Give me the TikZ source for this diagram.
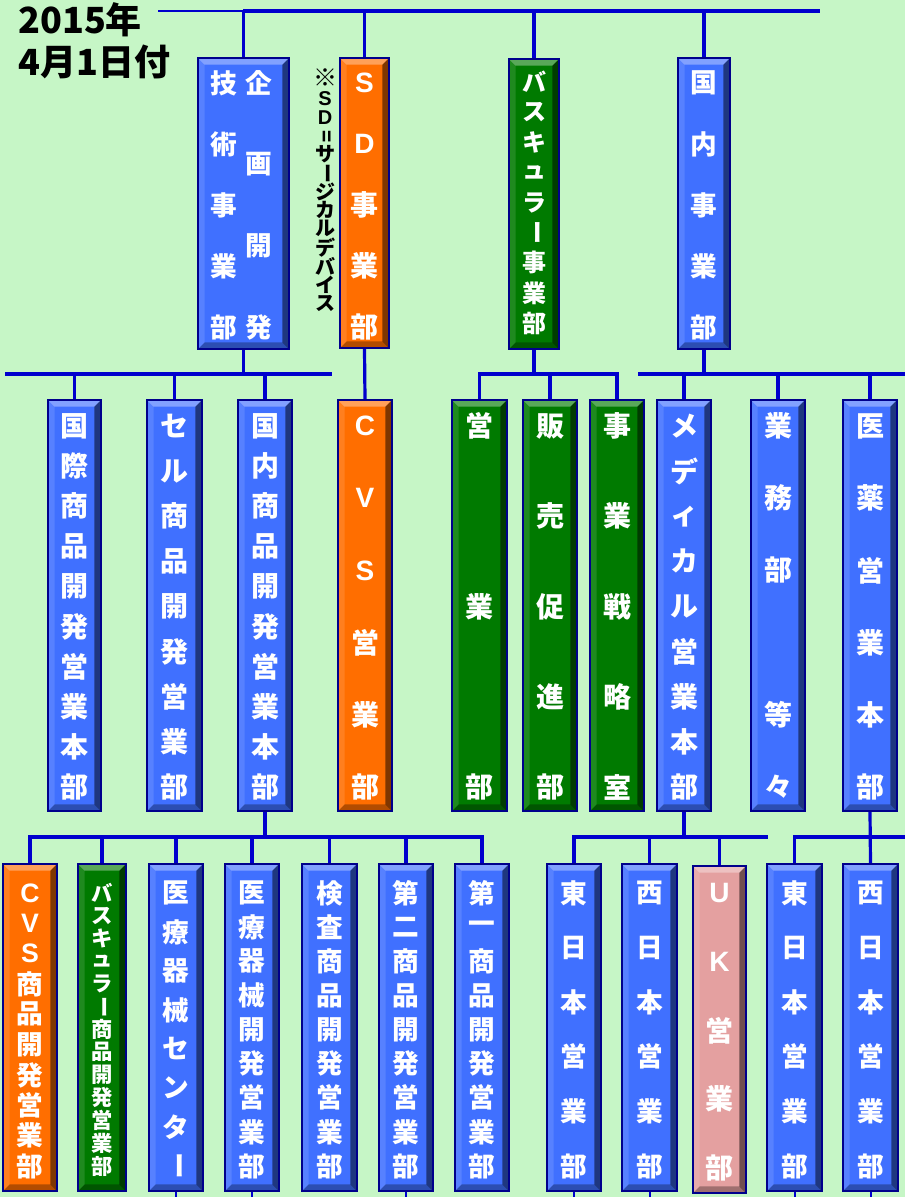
\documentclass[tikz,border=0pt]{standalone}
\usepackage{fontspec}
\setmainfont{Noto Sans CJK JP}
\newfontfamily\lat{Liberation Sans}[BoldFont={Liberation Sans Bold}]
\definecolor{bg}{RGB}{198,246,198}
\definecolor{linec}{RGB}{0,0,205}
\definecolor{boxb}{RGB}{0,0,140}
\definecolor{bfill}{RGB}{64,112,255}
\definecolor{ofill}{RGB}{255,110,0}
\definecolor{gfill}{RGB}{0,122,0}
\definecolor{pfill}{RGB}{228,160,160}
\newcommand\vr[1]{\rotatebox[origin=c]{-90}{#1}}
\newcommand\la[1]{{\lat\bfseries #1}}
\pgfdeclarelayer{bglayer}
\pgfdeclarelayer{connlayer}
\pgfsetlayers{bglayer,connlayer,main}
\tikzset{
  conn/.style={draw=linec, line width=2.4pt},
  thinconn/.style={draw=linec, line width=1.5pt},
  bevel/.style={path picture={
    \path (path picture bounding box.north west) coordinate (nw)
          (path picture bounding box.north east) coordinate (ne)
          (path picture bounding box.south west) coordinate (sw)
          (path picture bounding box.south east) coordinate (se);
    \fill[white,opacity=.35] (nw) -- (ne) -- ([shift={(-5pt,-5pt)}]ne) -- ([shift={(5pt,-5pt)}]nw) -- cycle;
    \fill[white,opacity=.12] (nw) -- (sw) -- ([shift={(5pt,5pt)}]sw) -- ([shift={(5pt,-5pt)}]nw) -- cycle;
    \fill[black,opacity=.5] (ne) -- (se) -- ([shift={(-5pt,5pt)}]se) -- ([shift={(-5pt,-5pt)}]ne) -- cycle;
    \fill[black,opacity=.3] (sw) -- (se) -- ([shift={(-5pt,5pt)}]se) -- ([shift={(5pt,5pt)}]sw) -- cycle;
  }},
  box/.style={draw=boxb, line width=1.5pt, rectangle, inner sep=0pt, bevel},
  bluebox/.style={box, fill=bfill},
  orangebox/.style={box, fill=ofill},
  greenbox/.style={box, fill=gfill},
  pinkbox/.style={box, fill=pfill},
  txt/.style={text=white, inner sep=0pt},
  note/.style={text=black, inner sep=0pt, font=\bfseries\fontsize{15}{15}\selectfont},
}
\newcommand\mkbox[6]{%
  \pgfmathsetmacro\bw{(#5-#3)*0.75}%
  \pgfmathsetmacro\bh{(#6-#4)*0.75}%
  \node[#2,minimum width=\bw pt,minimum height=\bh pt] (#1) at ({(#3+#5)/2},{(#4+#6)/2}) {};}
\newcommand\vtext[7]{%
  \foreach \c [count=\i] in {#7} {%
    \node[txt,font=\bfseries\fontsize{#6}{#6}\selectfont] (#1-\i) at ({#2},{#3+(\i-1)*(#4-#3)/(#5-1)}) {\c};}}
\begin{document}
\begin{tikzpicture}[x=0.75pt,y=-0.75pt]
\useasboundingbox (0,0) rectangle (905,1197);
\begin{pgfonlayer}{bglayer}
\fill[bg] (0,0) rectangle (905,1197);
\end{pgfonlayer}

% title
\node[anchor=north west, font=\bfseries\fontsize{27}{32}\selectfont, align=left, inner sep=0pt] (title) at (18,2) {2015年\\4月1日付};

% ---------- boxes: top row
\mkbox{T1}{bluebox}{198}{58}{289}{349}
\mkbox{T2}{orangebox}{340}{58}{389}{348}
\mkbox{T3}{greenbox}{509}{59}{559}{349}
\mkbox{T4}{bluebox}{678}{58}{730}{349}
% level 2
\mkbox{M1}{bluebox}{48}{400}{101}{811}
\mkbox{M2}{bluebox}{147}{400}{202}{811}
\mkbox{M3}{bluebox}{238}{400}{292}{811}
\mkbox{M4}{orangebox}{338}{400}{392}{811}
\mkbox{M5}{greenbox}{452}{400}{507}{811}
\mkbox{M6}{greenbox}{523}{400}{577}{811}
\mkbox{M7}{greenbox}{590}{400}{644}{811}
\mkbox{M8}{bluebox}{657}{400}{711}{811}
\mkbox{M9}{bluebox}{751}{400}{805}{811}
\mkbox{M10}{bluebox}{843}{400}{897}{811}
% level 3
\mkbox{B1}{orangebox}{3}{864}{57}{1191}
\mkbox{B2}{greenbox}{78}{864}{126}{1191}
\mkbox{B3}{bluebox}{149}{864}{203}{1191}
\mkbox{B4}{bluebox}{225}{864}{279}{1191}
\mkbox{B5}{bluebox}{302}{864}{357}{1191}
\mkbox{B6}{bluebox}{379}{864}{433}{1191}
\mkbox{B7}{bluebox}{455}{864}{509}{1191}
\mkbox{B8}{bluebox}{547}{864}{601}{1191}
\mkbox{B9}{bluebox}{622}{864}{677}{1191}
\mkbox{B10}{pinkbox}{693}{866}{746}{1193}
\mkbox{B11}{bluebox}{767}{864}{822}{1191}
\mkbox{B12}{bluebox}{843}{864}{898}{1191}

% ---------- connectors (behind boxes)
\coordinate (top0) at (158,11);
\coordinate (top1) at (243,11);
\coordinate (top2) at (820,11);
\coordinate (la0) at (5,374);
\coordinate (la1) at (332,374);
\coordinate (lb0) at (638,374);
\coordinate (lb1) at (905,374);
\coordinate (lc0) at (483,837);
\coordinate (ld1) at (768,837);
\coordinate (le1) at (905,837);
\coordinate (bot) at (0,1200);

\begin{pgfonlayer}{connlayer}
\draw[thinconn] (top0) -- (top1);
\draw[conn,line width=3pt] (top1) -- (top2);
\draw[conn] (T1.north) -- (T1.north |- top1);
\draw[conn] (T2.north) -- (T2.north |- top1);
\draw[conn] (T3.north) -- (T3.north |- top1);
\draw[conn] (T4.north) -- (T4.north |- top1);

\draw[conn] (la0) -- (la1);
\draw[conn] (T1.south) -- (T1.south |- la0);
\draw[conn] (M1.north) -- (M1.north |- la0);
\draw[conn] (M2.north) -- (M2.north |- la0);
\draw[conn] (M3.north) -- (M3.north |- la0);
\draw[conn] (T2.south) -- (M4.north);
\draw[conn] (M5.north) -- (M5.north |- la0) -- (M7.north |- la0) -- (M7.north);
\draw[conn] (M6.north) -- (M6.north |- la0);
\draw[conn] (T3.south) -- (T3.south |- la0);
\draw[conn] (lb0) -- (lb1);
\draw[conn] (T4.south) -- (T4.south |- lb0);
\draw[conn] (M8.north) -- (M8.north |- lb0);
\draw[conn] (M9.north) -- (M9.north |- lb0);
\draw[conn] (M10.north) -- (M10.north |- lb0);

\draw[conn] (B1.north) -- (B1.north |- lc0) -- (B7.north |- lc0) -- (B7.north);
\foreach \b in {B2,B3,B4,B5,B6} {\draw[conn] (\b.north) -- (\b.north |- lc0);}
\draw[conn] (M3.south) -- (M3.south |- lc0);
\draw[conn] (B8.north) -- (B8.north |- ld1) -- (ld1);
\draw[conn] (B9.north) -- (B9.north |- ld1);
\draw[conn] (B10.north) -- (B10.north |- ld1);
\draw[conn] (M8.south) -- (M8.south |- ld1);
\draw[conn] (B11.north) -- (B11.north |- le1) -- (le1);
\draw[conn] (M10.south) -- (B12.north);
\foreach \b in {B3,B4,B6,B8,B9,B11,B12} {\draw[thinconn] (\b.south) -- (\b.south |- bot);}
\end{pgfonlayer}

% ---------- texts
\vtext{T1a}{224}{83}{327}{5}{20}{技,術,事,業,部}
\vtext{T1b}{259}{83}{327}{4}{20}{企,画,開,発}
\vtext{T2t}{364.5}{83}{327}{5}{21}{\la{S},\la{D},事,業,部}
\vtext{T3t}{534}{82}{323}{9}{18}{バ,ス,キ,ュ,ラ,\vr{ー},事,業,部}
\vtext{T4t}{704}{83}{327}{5}{20}{国,内,事,業,部}

\node[note,font=\bfseries\fontsize{18}{18}\selectfont] (sd-0) at (325,78) {※};
\foreach \c [count=\i] in {\la{S},\la{D},\vr{=},サ,\vr{ー},ジ,カ,ル,デ,バ,イ,ス}
  {\node[note] (sd-\i) at (325,{99+(\i-1)*204/11}) {\c};}

\vtext{M1t}{74.5}{426}{787}{10}{21}{国,際,商,品,開,発,営,業,本,部}
\vtext{M2t}{174.5}{426}{787}{9}{21}{セ,ル,商,品,開,発,営,業,部}
\vtext{M3t}{265}{426}{787}{10}{21}{国,内,商,品,開,発,営,業,本,部}
\vtext{M4t}{365}{426}{787}{6}{21}{\la{C},\la{V},\la{S},営,業,部}
\vtext{M5t}{479.5}{426}{787}{3}{21}{営,業,部}
\vtext{M6t}{550}{426}{787}{5}{21}{販,売,促,進,部}
\vtext{M7t}{617}{426}{787}{5}{21}{事,業,戦,略,室}
\vtext{M8t}{684}{426}{787}{9}{21}{メ,デ,ィ,カ,ル,営,業,本,部}
\vtext{M9t}{778}{426}{787}{6}{21}{業,務,部,{},等,々}
\vtext{M10t}{870}{426}{787}{6}{21}{医,薬,営,業,本,部}

\vtext{B1t}{30}{893}{1166}{10}{20}{\la{C},\la{V},\la{S},商,品,開,発,営,業,部}
\vtext{B2t}{102}{893}{1166}{13}{16}{バ,ス,キ,ュ,ラ,\vr{ー},商,品,開,発,営,業,部}
\vtext{B3t}{176}{893}{1166}{8}{20}{医,療,器,械,セ,ン,タ,\vr{ー}}
\vtext{B4t}{252}{893}{1166}{9}{20}{医,療,器,械,開,発,営,業,部}
\vtext{B5t}{329.5}{893}{1166}{9}{20}{検,査,商,品,開,発,営,業,部}
\vtext{B6t}{406}{893}{1166}{9}{20}{第,二,商,品,開,発,営,業,部}
\vtext{B7t}{482}{893}{1166}{9}{20}{第,一,商,品,開,発,営,業,部}
\vtext{B8t}{574}{893}{1166}{6}{20}{東,日,本,営,業,部}
\vtext{B9t}{649.5}{893}{1166}{6}{20}{西,日,本,営,業,部}
\vtext{B10t}{719.5}{893}{1168}{5}{21}{\la{U},\la{K},営,業,部}
\vtext{B11t}{794.5}{893}{1166}{6}{20}{東,日,本,営,業,部}
\vtext{B12t}{870.5}{893}{1166}{6}{20}{西,日,本,営,業,部}
\end{tikzpicture}
\end{document}
